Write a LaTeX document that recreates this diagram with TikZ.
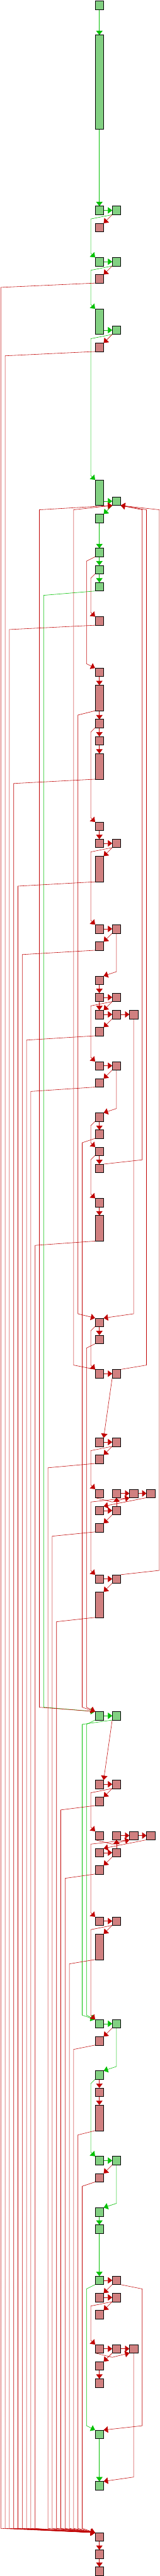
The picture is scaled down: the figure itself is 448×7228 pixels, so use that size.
\documentclass[tikz,border=0pt]{standalone}
\usetikzlibrary{arrows.meta,calc}
\definecolor{gfill}{RGB}{130,208,130}
\definecolor{rfill}{RGB}{208,128,128}
\definecolor{gline}{RGB}{0,192,0}
\definecolor{rline}{RGB}{192,0,0}
\pgfdeclarelayer{edges}
\pgfdeclarelayer{paper}
\pgfsetlayers{paper,edges,main}
\newcommand\nd[4]{\node[#1] (#2) at ({266.33+48*#3},{2.33+48*#4}) {};}
\newcommand\lane[6]{\draw[#1] (#2) -- ($(#2 -| #4)+(0,#3)$) -- ($(#5 -| #4)+(0,#6)$) -- (#5);}
\newcommand\rdn[3]{\draw[#1] (#2) -- ($(#3 -| #2)+(0,-12)$) -- (#3);}
\begin{document}
\begin{tikzpicture}[x=1pt,y=-1pt,
  box/.style={draw=black, line width=1pt, minimum width=24pt, minimum height=24pt, inner sep=0pt, outer sep=0pt, anchor=north west},
  gb/.style={box, fill=gfill},
  rb/.style={box, fill=rfill},
  mid/.style={minimum height=72pt},
  big/.style={minimum height=264pt},
  ge/.style={draw=gline, line width=1pt, -{Triangle[length=12pt,width=18pt]}},
  re/.style={draw=rline, line width=1pt, -{Triangle[length=12pt,width=18pt]}}]
\useasboundingbox (0,0) rectangle (448,7228);
\begin{pgfonlayer}{paper}
\fill[white] (0,0) rectangle (448,7228);
\end{pgfonlayer}
\foreach \j in {0,...,21} {\coordinate (L\j) at ({2.33+12*\j},0);}
\coordinate (R1) at (398.33,0);
\coordinate (R2) at (410.33,0);
\coordinate (R3) at (446.33,0);
% nodes
\nd{gb}{n0}{0}{0}
\nd{gb,big}{n2}{0}{2}
\nd{gb}{n12}{0}{12} \nd{gb}{n12b}{1}{12}
\nd{rb}{n13}{0}{13}
\nd{gb}{n15}{0}{15} \nd{gb}{n15b}{1}{15}
\nd{rb}{n16}{0}{16}
\nd{gb,mid}{n18}{0}{18}
\nd{gb}{n19b}{1}{19}
\nd{rb}{n20}{0}{20}
\nd{gb,mid}{n28}{0}{28}
\nd{gb}{n29b}{1}{29}
\nd{gb}{n30}{0}{30}
\nd{gb}{n32}{0}{32}
\nd{gb}{n33}{0}{33}
\nd{gb}{n34}{0}{34}
\nd{rb}{n36}{0}{36}
\nd{rb}{n39}{0}{39}
\nd{rb,mid}{n40}{0}{40}
\nd{rb}{n42}{0}{42}
\nd{rb}{n43}{0}{43}
\nd{rb,mid}{n44}{0}{44}
\nd{rb}{n48}{0}{48}
\nd{rb}{n49}{0}{49} \nd{rb}{n49b}{1}{49}
\nd{rb,mid}{n50}{0}{50}
\nd{rb}{n54}{0}{54} \nd{rb}{n54b}{1}{54}
\nd{rb}{n55}{0}{55}
\nd{rb}{n57}{0}{57}
\nd{rb}{n58}{0}{58} \nd{rb}{n58b}{1}{58}
\nd{rb}{n59}{0}{59} \nd{rb}{n59b}{1}{59} \nd{rb}{n59c}{2}{59}
\nd{rb}{n60}{0}{60}
\nd{rb}{n62}{0}{62} \nd{rb}{n62b}{1}{62}
\nd{rb}{n63}{0}{63}
\nd{rb}{n65}{0}{65}
\nd{rb}{n66}{0}{66}
\nd{rb}{n67}{0}{67}
\nd{rb}{n68}{0}{68}
\nd{rb}{n70}{0}{70}
\nd{rb,mid}{n71}{0}{71}
\nd{rb}{n77}{0}{77}
\nd{rb}{n78}{0}{78}
\nd{rb}{n80}{0}{80} \nd{rb}{n80b}{1}{80}
\nd{rb}{n84}{0}{84} \nd{rb}{n84b}{1}{84}
\nd{rb}{n85}{0}{85}
\nd{rb}{n87}{0}{87} \nd{rb}{n87b}{1}{87} \nd{rb}{n87c}{2}{87} \nd{rb}{n87d}{3}{87}
\nd{rb}{n88}{0}{88} \nd{rb}{n88b}{1}{88}
\nd{rb}{n89}{0}{89}
\nd{rb}{n92}{0}{92} \nd{rb}{n92b}{1}{92}
\nd{rb,mid}{n93}{0}{93}
\nd{gb}{n100}{0}{100} \nd{gb}{n100b}{1}{100}
\nd{rb}{n104}{0}{104} \nd{rb}{n104b}{1}{104}
\nd{rb}{n105}{0}{105}
\nd{rb}{n107}{0}{107} \nd{rb}{n107b}{1}{107} \nd{rb}{n107c}{2}{107} \nd{rb}{n107d}{3}{107}
\nd{rb}{n108}{0}{108} \nd{rb}{n108b}{1}{108}
\nd{rb}{n109}{0}{109}
\nd{rb}{n112}{0}{112} \nd{rb}{n112b}{1}{112}
\nd{rb,mid}{n113}{0}{113}
\nd{gb}{n118}{0}{118} \nd{gb}{n118b}{1}{118}
\nd{rb}{n119}{0}{119}
\nd{gb}{n121}{0}{121}
\nd{rb}{n122}{0}{122}
\nd{rb,mid}{n123}{0}{123}
\nd{gb}{n126}{0}{126} \nd{gb}{n126b}{1}{126}
\nd{rb}{n127}{0}{127}
\nd{gb}{n129}{0}{129}
\nd{gb}{n130}{0}{130}
\nd{gb}{n133}{0}{133} \nd{rb}{n133b}{1}{133}
\nd{rb}{n134}{0}{134} \nd{rb}{n134b}{1}{134}
\nd{rb}{n135}{0}{135}
\nd{rb}{n137}{0}{137} \nd{rb}{n137b}{1}{137} \nd{rb}{n137c}{2}{137}
\nd{rb}{n138}{0}{138}
\nd{rb}{n139}{0}{139}
\nd{gb}{n142}{0}{142}
\nd{gb}{n145}{0}{145}
\nd{rb}{n148}{0}{148}
\nd{rb}{n149}{0}{149}
\nd{rb}{n150}{0}{150}
\begin{pgfonlayer}{edges}
% green edges
\draw[ge] (n0) -- (n2);
\draw[ge] (n2) -- (n12);
\draw[ge] (n12) -- (n12b);
\lane{ge}{n12b.south west}{12}{L21}{n15.north west}{-12}
\draw[ge] (n15) -- (n15b);
\lane{ge}{n15b.south west}{12}{L21}{n18.north west}{-12}
\draw[ge] (n18.east |- n19b.west) -- (n19b.west);
\lane{ge}{n19b.south west}{12}{L21}{n28.north west}{-12}
\draw[ge] (n28.east |- n29b.west) -- (n29b.west);
\draw[ge] (n29b.south west) -- (n30.north east);
\draw[ge] (n30) -- (n32);
\draw[ge] (n32) -- (n33);
\draw[ge] (n33) -- (n34);
\lane{ge}{n34.south west}{12}{L10}{n100.north west}{-12}
\draw[ge] (n100) -- (n100b);
\lane{ge}{n100.south west}{12}{L20}{n118.north west}{-12}
\lane{ge}{n100b.south west}{12}{L19}{n118.north west}{-12}
\draw[ge] (n118) -- (n118b);
\rdn{ge}{n118b.south}{n121.north east}
\lane{ge}{n121.south west}{12}{L21}{n126.north west}{-12}
\draw[ge] (n126) -- (n126b);
\rdn{ge}{n126b.south}{n129.north east}
\draw[ge] (n129) -- (n130);
\draw[ge] (n130) -- (n133);
\lane{ge}{n133.south west}{12}{L20}{n142.north west}{-12}
\draw[ge] (n142) -- (n145);
% red edges to the final block
\foreach \s/\l in {n16/L0,n20/L1,n36/L2,n44/L3,n50/L4,n55/L5,n60/L6,n63/L7,n71/L8,n85/L11,n89/L12,n93/L13,n105/L14,n109/L15,n113/L16,n119/L17,n123/L18,n127/L19}
  {\lane{re}{\s.south west}{12}{\l}{n148.north west}{-12}}
% red edges
\draw[re] (n12b.south west) -- (n13.north east);
\draw[re] (n15b.south west) -- (n16.north east);
\draw[re] (n19b.south west) -- (n20.north east);
\lane{re}{n32.south west}{12}{L20}{n39.north west}{-12}
\lane{re}{n33.south west}{12}{L21}{n36.north west}{-12}
\draw[re] (n39) -- (n40);
\draw[re] (n40) -- (n42);
\draw[re] (n42) -- (n43);
\draw[re] (n43) -- (n44);
\lane{re}{n40.south west}{12}{L18}{n77.north west}{-12}
\lane{re}{n42.south west}{12}{L21}{n48.north west}{-12}
\draw[re] (n48) -- (n49);
\draw[re] (n49) -- (n49b);
\draw[re] (n49b.south west) -- (n50.north east);
\lane{re}{n49b.south west}{12}{L21}{n54.north west}{-12}
\draw[re] (n54) -- (n54b);
\draw[re] (n54b.south west) -- (n55.north east);
\rdn{re}{n54b.south}{n57.north east}
\draw[re] (n57) -- (n58);
\draw[re] (n58) -- (n58b);
\draw[re] (n58) -- (n59);
\draw[re] (n58b.south west) -- (n59.north east);
\lane{re}{n58b.south west}{12}{L21}{n62.north west}{-12}
\draw[re] (n59) -- (n59b);
\draw[re] (n59b) -- (n59c);
\draw[re] (n59b.south west) -- (n60.north east);
\rdn{re}{n59c.south}{n77.north east}
\draw[re] (n62) -- (n62b);
\draw[re] (n62b.south west) -- (n63.north east);
\rdn{re}{n62b.south}{n65.north east}
\draw[re] (n65) -- (n66);
\lane{re}{n65.south west}{12}{L21}{n67.north west}{-12}
\lane{re}{n66.south west}{12}{L19}{n100.north west}{-12}
\draw[re] (n67) -- (n68);
\lane{re}{n67.south west}{12}{L21}{n70.north west}{-12}
\lane{re}{n68.north east}{-12}{R1}{n29b.south east}{12}
\draw[re] (n70) -- (n71);
\draw[re] (n77) -- (n78);
\lane{re}{n77.south west}{12}{L21}{n80.north west}{-12}
\lane{re}{n78.south west}{12}{L20}{n100.north west}{-12}
\lane{re}{n80.north west}{-12}{L17}{n29b.south west}{12}
\draw[re] (n80) -- (n80b);
\lane{re}{n80b.north east}{-12}{R2}{n29b.south east}{12}
\draw[re] (n80b.south west) -- (n84.north east);
\draw[re] (n84) -- (n84b);
\draw[re] (n84b.south west) -- (n85.north east);
\lane{re}{n84b.south west}{12}{L21}{n87.north west}{-12}
\draw[re] (n87.south west) -- ($(n87b.south west)+(0,12)$) -- (n87c.south west);
\draw[re] (n87b) -- (n87c);
\draw[re] (n87c) -- (n87d);
\lane{re}{n87c.south west}{12}{L21}{n92.north west}{-12}
\draw[re] (n87d.south west) -- (n88.north east);
\draw[re] (n88) -- (n88b);
\draw[re] (n88b) -- (n87b);
\draw[re] (n88b.south west) -- (n89.north east);
\draw[re] (n92) -- (n92b);
\lane{re}{n92b.north east}{-12}{R3}{n29b.south east}{12}
\draw[re] (n92b.south west) -- (n93.north east);
\lane{re}{n100.north west}{-12}{L9}{n29b.south west}{12}
\draw[re] (n100b.south west) -- (n104.north east);
\draw[re] (n104) -- (n104b);
\draw[re] (n104b.south west) -- (n105.north east);
\lane{re}{n104b.south west}{12}{L21}{n107.north west}{-12}
\draw[re] (n107.south west) -- ($(n107b.south west)+(0,12)$) -- (n107c.south west);
\draw[re] (n107b) -- (n107c);
\draw[re] (n107c) -- (n107d);
\lane{re}{n107c.south west}{12}{L21}{n112.north west}{-12}
\draw[re] (n107d.south west) -- (n108.north east);
\draw[re] (n108) -- (n108b);
\draw[re] (n108b) -- (n107b);
\draw[re] (n108b.south west) -- (n109.north east);
\draw[re] (n112) -- (n112b);
\draw[re] (n112b.south west) -- (n113.north east);
\lane{re}{n112b.south west}{12}{L21}{n118.north west}{-12}
\draw[re] (n118b.south west) -- (n119.north east);
\draw[re] (n121) -- (n122);
\draw[re] (n122) -- (n123);
\draw[re] (n126b.south west) -- (n127.north east);
\draw[re] (n133) -- (n133b);
\draw[re] (n133b.south west) -- (n134.north east);
\lane{re}{n133b.south east}{12}{R1}{n142.north east}{-12}
\draw[re] (n134) -- (n134b);
\draw[re] (n134b.south west) -- (n135.north east);
\lane{re}{n134b.south west}{12}{L21}{n137.north west}{-12}
\draw[re] (n137) -- (n137b);
\draw[re] (n137b) -- (n137c);
\draw[re] (n137.south west) -- ($(n137b.south west)+(0,12)$) -- (n137c.south west);
\draw[re] (n137b.south west) -- (n138.north east);
\rdn{re}{n137c.south}{n145.north east}
\draw[re] (n138) -- (n139);
\draw[re] (n148) -- (n149);
\draw[re] (n149) -- (n150);
\end{pgfonlayer}
\end{tikzpicture}
\end{document}
